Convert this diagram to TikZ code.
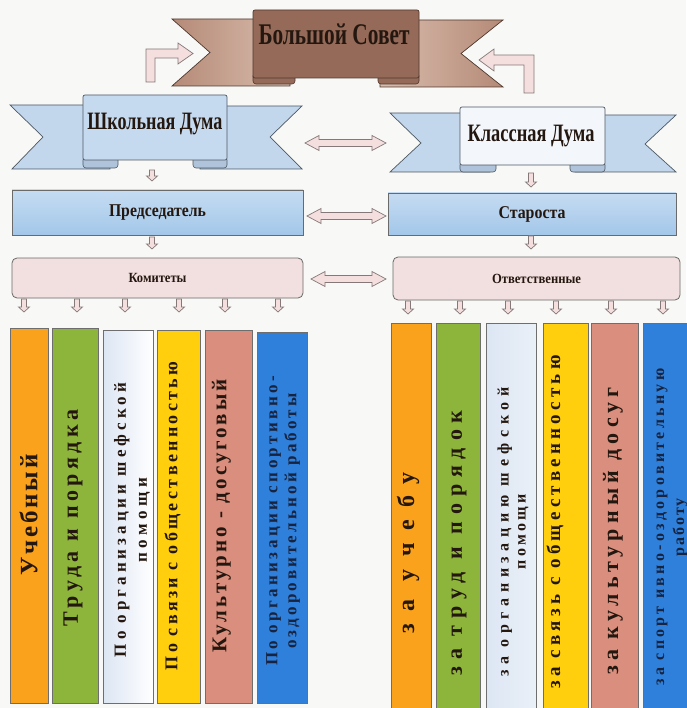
\documentclass[tikz,border=0pt]{standalone}
\usepackage{fontspec}
\setmainfont{Liberation Serif}
\newfontfamily\colbf{Liberation Serif Bold}
\usepackage{graphicx}
\usepackage{xstring}
\usetikzlibrary{calc}

\definecolor{bgc}{HTML}{F8F8F6}
\definecolor{inkc}{HTML}{24170F}
\definecolor{navyink}{HTML}{17233F}
\definecolor{arrfill}{HTML}{F4DEDE}
\definecolor{arrline}{HTML}{857878}
\definecolor{bsL}{HTML}{956A58}
\definecolor{bsM}{HTML}{D9BDAE}
\definecolor{bsW}{HTML}{B58A77}
\definecolor{bsLine}{HTML}{4E382E}
\definecolor{sdFill}{HTML}{C6DAEF}
\definecolor{sdWing}{HTML}{C2D6EC}
\definecolor{rollBl}{HTML}{AFC4DA}
\definecolor{kdFill}{HTML}{F3F7FB}
\definecolor{blueLine}{HTML}{4C5864}
\definecolor{prTop}{HTML}{C5DCF2}
\definecolor{prBot}{HTML}{A3C7E9}
\definecolor{pinkBox}{HTML}{F2DFDF}
\definecolor{boxLine}{HTML}{6A6A6A}
\definecolor{cOrange}{HTML}{FAA21B}
\definecolor{cGreen}{HTML}{8DB53C}
\definecolor{cLight}{HTML}{DCE6F3}
\definecolor{cYellow}{HTML}{FFCF0D}
\definecolor{cSalmon}{HTML}{DA8E7D}
\definecolor{cBlue}{HTML}{2E80DA}
\definecolor{colLine}{HTML}{6E6E6E}

\newlength\spw
\newcommand\sptext[3]{{\colbf\fontsize{#1}{#1}\selectfont
  \settowidth\spw{#3}%
  \StrLen{#3}[\spn]%
  \pgfmathsetmacro\spls{max(0,100*((#2)-\spw)/((\spn)*(#1)))}%
  \pgfmathsetmacro\spd{\spls*(#1)/100}%
  \edef\spdo{\noexpand\addfontfeature{LetterSpace=\spls}}\spdo
  \spaceskip=\dimexpr 0.25em+\spd pt\relax
  #3}}
\newcommand\condtext[3]{\resizebox{#2pt}{\height}{\fontsize{#1}{#1}\selectfont\bfseries #3}}

\newcommand\dnarrow[2]{\draw[hol] let \p1=(#1), \p2=(#2) in
  (\x1-2.5pt,\y1) -- (\x1-2.5pt,\y2+5pt) -- (\x1-5.5pt,\y2+5pt) -- (\x1,\y2)
  -- (\x1+5.5pt,\y2+5pt) -- (\x1+2.5pt,\y2+5pt) -- (\x1+2.5pt,\y1) -- cycle;}
\newcommand\lrarrow[2]{\draw[hol] let \p1=(#1), \p2=(#2) in
  (\x1,\y1) -- (\x1+14pt,\y1+7.5pt) -- (\x1+14pt,\y1+3.5pt) -- (\x2-14pt,\y1+3.5pt)
  -- (\x2-14pt,\y1+7.5pt) -- (\x2,\y1) -- (\x2-14pt,\y1-7.5pt) -- (\x2-14pt,\y1-3.5pt)
  -- (\x1+14pt,\y1-3.5pt) -- (\x1+14pt,\y1-7.5pt) -- cycle;}

\begin{document}
\begin{tikzpicture}[x=1pt,y=-1pt,
  hol/.style={draw=arrline, fill=arrfill, line width=0.7pt},
  wingbs/.style={draw=bsLine, line width=0.7pt, left color=bsW, right color=bsM},
  wingbsr/.style={draw=bsLine, line width=0.7pt, left color=bsM, right color=bsW},
  rollbs/.style={draw=bsLine, line width=0.6pt, fill=bsL, rounded corners=3pt},
  panelbs/.style={draw=bsLine, line width=0.7pt, left color=bsL, middle color=bsM, right color=bsL, rounded corners=2pt, inner sep=0pt},
  wingbl/.style={draw=blueLine, line width=0.7pt, fill=sdWing},
  rollbl/.style={draw=blueLine, line width=0.6pt, fill=rollBl, rounded corners=3pt},
  panelsd/.style={draw=blueLine, line width=0.7pt, fill=sdFill, rounded corners=2pt, inner sep=0pt},
  panelkd/.style={draw=blueLine, line width=0.7pt, fill=kdFill, rounded corners=2pt, inner sep=0pt},
  bluebox/.style={draw=boxLine, line width=0.8pt, top color=prTop, bottom color=prBot, inner sep=0pt, text=inkc},
  pinkbox/.style={draw=boxLine, line width=0.8pt, fill=pinkBox, rounded corners=5pt, inner sep=0pt, text=inkc},
  colbox/.style={draw=colLine, line width=0.7pt, inner sep=0pt},
  ctext/.style={rotate=90, inner sep=0pt, text=inkc, align=center},
  ttext/.style={inner sep=0pt, text=inkc}
]
\useasboundingbox (0,0) rectangle (686,708);
\fill[bgc] (0,0) rectangle (686,708);

% ---------- Bolshoi Sovet banner ----------
\draw[wingbs] (172,19) -- (290,19) -- (290,86) -- (172,86) -- (210,52.5) -- cycle;
\draw[wingbsr] (503,20) -- (380,20) -- (380,87) -- (503,87) -- (461,53.5) -- cycle;
\draw[rollbs] (253,73) rectangle (295,84);
\draw[rollbs] (378,73) rectangle (419,84);
\node[panelbs, minimum width=166, minimum height=68] (bs) at (336,44) {};
\node[ttext, anchor=base] (bst) at (334,45) {\condtext{30}{151}{Большой Совет}};

% ---------- Shkolnaya Duma banner ----------
\draw[wingbl] (10,105) -- (110,105) -- (110,169) -- (12,169) -- (43,137) -- cycle;
\draw[wingbl] (302,106) -- (200,106) -- (200,169) -- (302,169) -- (270,137) -- cycle;
\draw[rollbl] (83,157) rectangle (118,168);
\draw[rollbl] (193,157) rectangle (227,168);
\node[panelsd, minimum width=144, minimum height=65] (sd) at (155,127.5) {};
\node[ttext, anchor=base] (sdt) at (155,130) {\condtext{25}{135}{Школьная Дума}};

% ---------- Klassnaya Duma banner ----------
\draw[wingbl] (390,113) -- (490,113) -- (490,172) -- (390,172) -- (421,143) -- cycle;
\draw[wingbl] (676,115) -- (575,115) -- (575,172) -- (676,172) -- (645,144) -- cycle;
\draw[rollbl] (460,162) rectangle (496,172);
\draw[rollbl] (570,162) rectangle (605,172);
\node[panelkd, minimum width=145, minimum height=58] (kd) at (532.5,136) {};
\node[ttext, anchor=base] (kdt) at (531,142) {\condtext{25}{127}{Классная Дума}};

% ---------- elbow arrows to Bolshoi Sovet ----------
\draw[hol] (146,82) -- (146,49) -- (178,49) -- (178,43) -- (193,53.5) -- (178,64) -- (178,58) -- (155,58) -- (155,82) -- cycle;
\draw[hol] (534,93) -- (534,55) -- (494,55) -- (494,49) -- (479,60) -- (494,71) -- (494,65) -- (524,65) -- (524,93) -- cycle;

% ---------- boxes ----------
\node[bluebox, minimum width=291, minimum height=45] (pr) at (157.5,212.5) {\condtext{18}{97}{Председатель}};
\node[bluebox, minimum width=288, minimum height=42] (st) at (532,214) {\condtext{18}{67}{Староста}};
\node[pinkbox, minimum width=291, minimum height=40] (km) at (157.5,278) {\condtext{14}{58}{Комитеты}};
\node[pinkbox, minimum width=287, minimum height=43] (ot) at (536.5,278.5) {\condtext{14}{89}{Ответственные}};

% ---------- double arrows ----------
\coordinate (d1a) at (305,143); \coordinate (d1b) at (386,143);
\coordinate (d2a) at (307,216); \coordinate (d2b) at (386,216);
\coordinate (d3a) at (311,279); \coordinate (d3b) at (386,279);
\lrarrow{d1a}{d1b}
\lrarrow{d2a}{d2b}
\lrarrow{d3a}{d3b}

% ---------- small down arrows ----------
\coordinate (s1a) at (152,170); \coordinate (s1b) at (152,181);
\coordinate (s2a) at (152,237); \coordinate (s2b) at (152,249);
\coordinate (s3a) at (531,173); \coordinate (s3b) at (531,187);
\coordinate (s4a) at (531,236); \coordinate (s4b) at (531,249);
\dnarrow{s1a}{s1b}
\dnarrow{s2a}{s2b}
\dnarrow{s3a}{s3b}
\dnarrow{s4a}{s4b}
\foreach \xx [count=\i] in {24,77,125,179,225,278}{
  \coordinate (kl\i) at (\xx,299); \coordinate (kb\i) at (\xx,312);
  \dnarrow{kl\i}{kb\i}
}
\foreach \xx [count=\i] in {408,460,508,556,611,663}{
  \coordinate (ol\i) at (\xx,301); \coordinate (ob\i) at (\xx,314);
  \dnarrow{ol\i}{ob\i}
}

% ---------- left columns ----------
\node[colbox, fill=cOrange, minimum width=38, minimum height=375] (l1) at (29,515.5) {};
\node[colbox, fill=cGreen,  minimum width=46, minimum height=375] (l2) at (75,515.5) {};
\node[colbox, left color=cLight, right color=white, minimum width=50, minimum height=373] (l3) at (128,516.5) {};
\node[colbox, fill=cYellow, minimum width=43, minimum height=373] (l4) at (178.5,516.5) {};
\node[colbox, fill=cSalmon, minimum width=47, minimum height=373] (l5) at (228.5,516.5) {};
\node[colbox, fill=cBlue,   minimum width=50, minimum height=371] (l6) at (282,517.5) {};

\node[ctext] (l1t) at (28.5,515) {\sptext{25}{124}{Учебный}};
\node[ctext] (l2t) at (73,518) {\sptext{22}{230}{Труда и порядка}};
\node[ctext, font=\fontsize{17}{21}\selectfont] (l3t) at (132,520) {\sptext{17}{286}{По организации шефской}\\\sptext{17}{90}{помощи}};
\node[ctext] (l4t) at (172.5,516) {\sptext{18}{322}{По связи с общественностью}};
\node[ctext] (l5t) at (221.5,516) {\sptext{21}{283}{Культурно - досуговый}};
\node[ctext, text=navyink, font=\fontsize{17}{19}\selectfont] (l6t) at (283,521) {\sptext{17}{300}{По организации спортивно-}\\\sptext{17}{262}{оздоровительной работы}};

% ---------- right columns ----------
\node[colbox, fill=cOrange, minimum width=40, minimum height=392] (r1) at (411,519) {};
\node[colbox, fill=cGreen,  minimum width=44, minimum height=392] (r2) at (458,519) {};
\node[colbox, left color=cLight, right color=cLight!60!white, minimum width=50, minimum height=392] (r3) at (511,519) {};
\node[colbox, fill=cYellow, minimum width=45, minimum height=392] (r4) at (565.5,519) {};
\node[colbox, fill=cSalmon, minimum width=47, minimum height=392] (r5) at (614.5,519) {};
\node[colbox, fill=cBlue,   minimum width=50, minimum height=392] (r6) at (668,519) {};

\node[ctext] (r1t) at (408,553) {\sptext{24}{187}{за учебу}};
\node[ctext] (r2t) at (459,543) {\sptext{22}{293}{за труд и порядок}};
\node[ctext, font=\fontsize{16}{17}\selectfont] (r3t) at (513,532) {\sptext{16}{306}{за организацию шефской}\\\sptext{16}{78}{помощи}};
\node[ctext] (r4t) at (555,522) {\sptext{19}{350}{за связь с общественностью}};
\node[ctext] (r5t) at (613,531) {\sptext{22}{303}{за культурный досуг}};
\node[ctext, text=navyink, font=\fontsize{16}{20}\selectfont] (r6t) at (672,527) {\sptext{16}{327}{за спорт ивно-оздоровительную}\\\sptext{16}{60}{работу}};
\end{tikzpicture}
\end{document}
